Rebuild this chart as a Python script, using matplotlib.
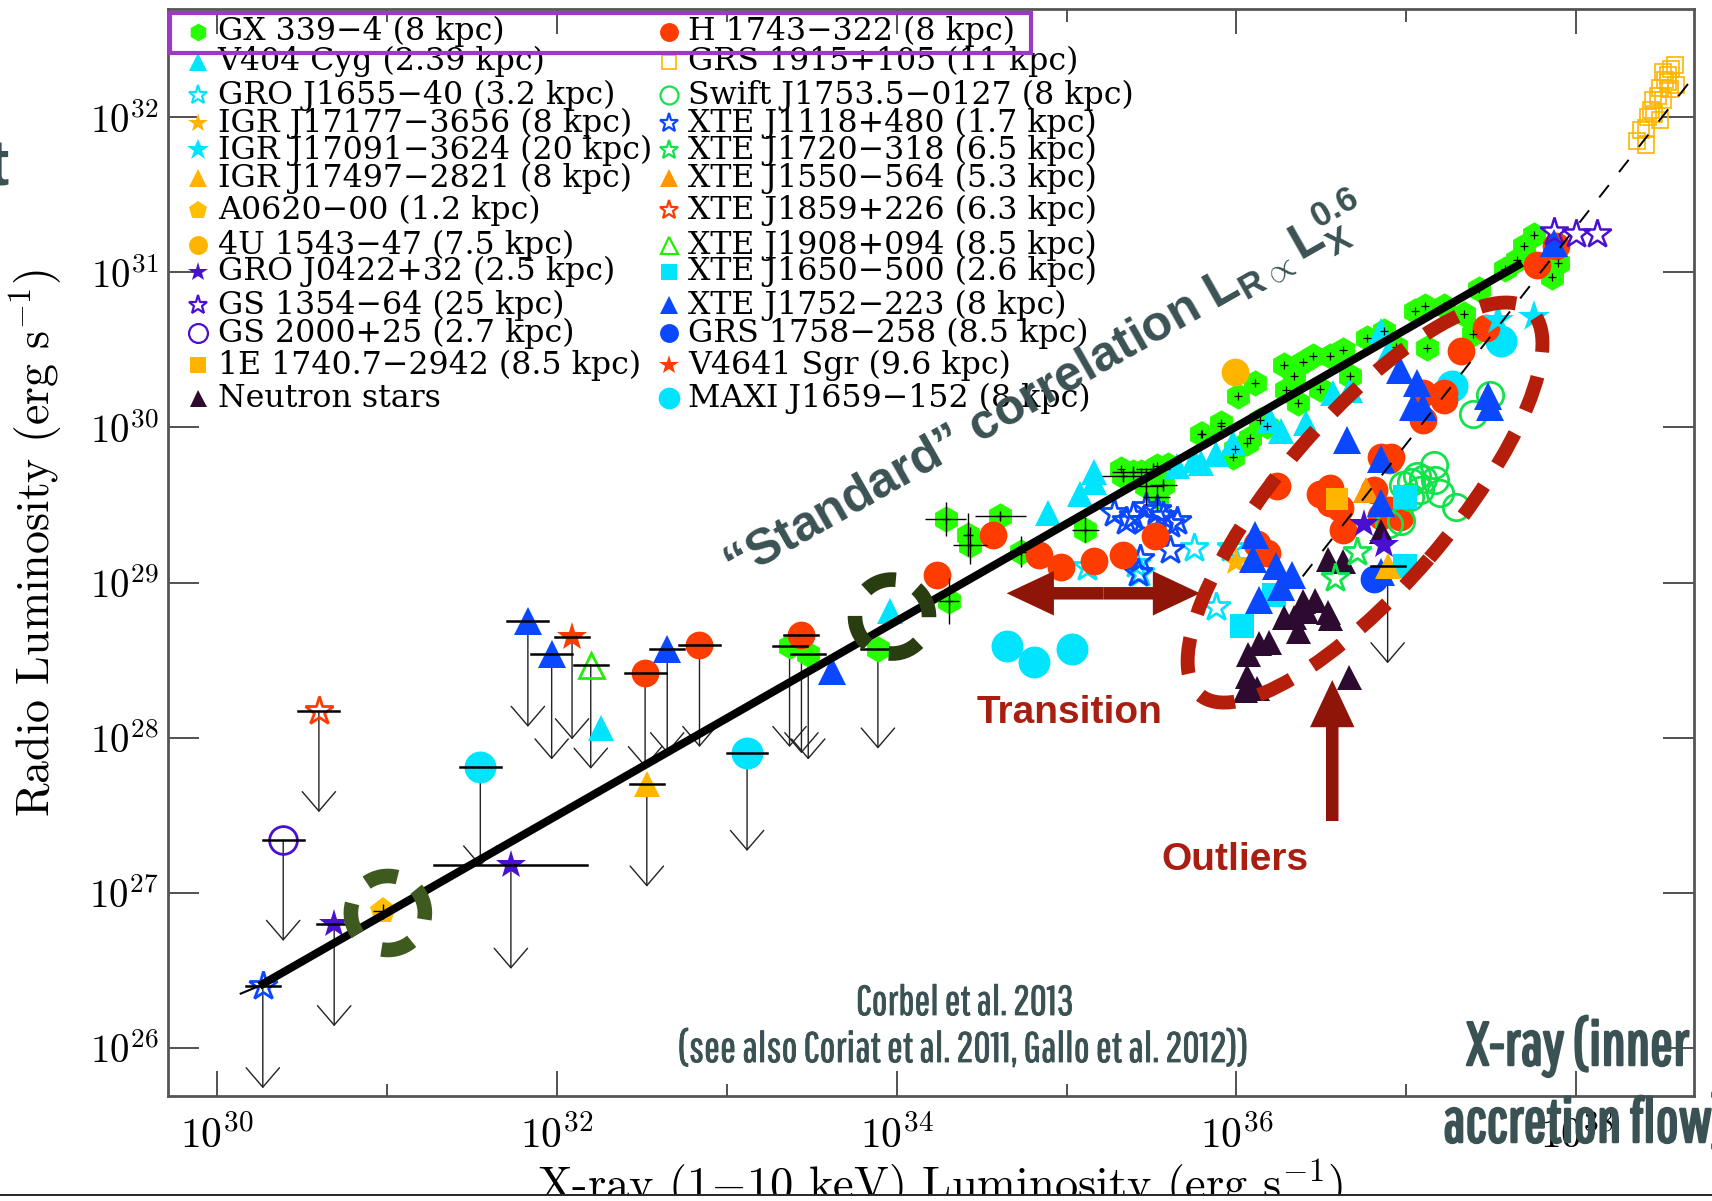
import numpy as np
import matplotlib
matplotlib.use("Agg")
from matplotlib import pyplot as plt
from matplotlib import patheffects as pe
from matplotlib.patches import Ellipse, Arc, Rectangle, FancyArrowPatch
from matplotlib.transforms import IdentityTransform
from matplotlib.ticker import FixedLocator, FixedFormatter, NullLocator, NullFormatter

plt.rcParams["mathtext.fontset"] = "cm"
plt.rcParams["mathtext.rm"] = "Liberation Sans:bold"
plt.rcParams["mathtext.it"] = "Liberation Sans:bold"
plt.rcParams["mathtext.bf"] = "Liberation Sans:bold"

# all values are log10 luminosities (x: 1-10 keV, y: radio)
gx339_x = [34.29, 34.42, 34.43, 34.61, 34.73, 34.31, 35.11, 35.33, 35.39, 35.51, 35.47, 35.53, 35.57,
           35.79, 35.98, 36.06, 35.91, 36.18, 36.01, 36.11, 36.28, 36.34, 36.39, 36.45, 36.55, 36.63,
           36.77, 37.05, 37.11, 37.12, 37.34, 37.39, 37.43, 37.58, 37.65, 37.69, 37.75, 37.86, 37.89,
           35.80, 35.91, 35.99, 36.08, 36.14, 36.29, 36.36, 36.49, 36.67, 36.87, 36.94, 37.22,
           35.32, 35.53, 35.44, 35.60]
gx339_y = [29.41, 29.31, 29.24, 29.43, 29.20, 28.88, 29.34, 29.69, 29.71, 29.73, 29.62, 29.55, 29.63,
           29.96, 29.81, 29.90, 30.01, 30.01, 30.20, 30.29, 30.40, 30.33, 30.42, 30.46, 30.46, 30.50,
           30.58, 30.75, 30.78, 30.51, 30.73, 30.60, 30.89, 31.02, 31.08, 31.17, 31.24, 30.97, 31.06,
           29.96, 30.03, 29.86, 29.93, 30.05, 30.24, 30.16, 30.25, 30.33, 30.62, 30.52, 30.78,
           29.73, 29.75, 29.71, 29.76]
# GX 339-4 points with visible error bars (half widths in dex)
gxbar_x = [34.29, 34.61, 34.42, 34.43, 34.31, 35.11, 34.73, 35.33, 35.39, 35.51, 35.47, 35.53, 35.57]
gxbar_y = [29.41, 29.43, 29.31, 29.24, 28.88, 29.34, 29.20, 29.69, 29.71, 29.73, 29.62, 29.55, 29.63]
gxbar_dx = [0.12, 0.15, 0.03, 0.10, 0.06, 0.08, 0.03, 0.12, 0.12, 0.10, 0.10, 0.08, 0.08]
gxbar_dy = [0.11, 0.03, 0.14, 0.12, 0.15, 0.08, 0.10, 0.04, 0.04, 0.04, 0.12, 0.08, 0.04]

h1743_x = [34.57, 34.84, 34.97, 35.16, 35.33, 35.52, 34.24, 36.24, 36.49, 36.55, 36.61, 36.63, 36.81,
           36.90, 36.96, 36.55, 36.85, 37.47, 37.32, 37.22, 37.10, 36.90, 37.77, 37.88, 36.12, 36.18,
           36.85, 36.91, 37.10, 37.22]
h1743_y = [29.31, 29.18, 29.10, 29.14, 29.18, 29.30, 29.05, 29.62, 29.57, 29.61, 29.48, 29.34, 29.60,
           29.47, 29.42, 29.51, 29.43, 30.64, 30.49, 30.18, 30.05, 29.79, 31.05, 31.17, 29.25, 29.19,
           29.81, 29.81, 30.22, 30.22]
j1752_x = [36.11, 36.10, 36.23, 36.33, 36.26, 36.13, 36.65, 36.85, 36.85, 36.85, 37.87, 36.96, 37.06,
           37.04, 37.10, 37.48, 37.49, 33.62]
j1752_y = [29.31, 29.15, 29.11, 29.05, 28.97, 28.89, 29.92, 29.80, 29.51, 29.07, 31.19, 30.37, 30.29,
           30.13, 30.13, 30.20, 30.13, 28.43]
v404_x = [33.96, 34.89, 35.08, 35.16, 35.79, 35.98, 36.26, 36.41, 36.85, 36.89, 36.67, 36.57, 36.20,
          35.88, 35.75, 35.65, 35.16, 32.26]
v404_y = [28.82, 29.45, 29.57, 29.65, 29.77, 29.90, 29.98, 30.03, 30.62, 30.48, 30.24, 30.22, 30.05,
          29.83, 29.79, 29.75, 29.71, 28.06]
j1655_x = [35.12, 35.43, 35.75, 35.97, 35.88, 35.41]
j1655_y = [29.10, 29.06, 29.22, 29.22, 28.84, 29.12]
j17091_x = [37.75, 37.54]
j17091_y = [30.71, 30.69]
j1650_x = [36.03, 36.22, 36.99, 36.99]
j1650_y = [28.72, 28.92, 29.11, 29.55]
maxi_x = [34.65, 34.81, 35.03, 37.56, 37.27]
maxi_y = [28.59, 28.49, 28.57, 30.56, 30.27]
j17177_x = [36.00]
j17177_y = [29.13]
j1550_x = [36.76]
j1550_y = [29.60]
e1740_x = [36.59]
e1740_y = [29.54]
u1543_x = [35.99]
u1543_y = [30.36]
a0620_x = [30.98]
a0620_y = [26.88]
grs1915_x = [38.36, 38.38, 38.41, 38.42, 38.44, 38.46, 38.45, 38.48, 38.49, 38.51,
             38.52, 38.54, 38.55, 38.56, 38.58, 38.59, 38.49, 38.41, 38.51, 38.54]
grs1915_y = [31.85, 31.92, 31.93, 32.00, 32.05, 32.02, 32.11, 32.14, 32.19, 32.11,
             32.24, 32.27, 32.18, 32.31, 32.34, 32.21, 31.98, 31.82, 32.29, 32.23]
j0422_x = [36.75, 36.87]
j0422_y = [29.38, 29.24]
gs1354_x = [37.87, 38.00, 38.12]
gs1354_y = [31.26, 31.25, 31.25]
ns_x = [36.39, 36.46, 36.54, 36.28, 36.36, 36.13, 36.19, 36.07, 36.06, 36.12, 36.05, 36.66, 36.34,
        36.41, 36.55, 36.85, 36.54, 36.63]
ns_y = [28.88, 28.89, 28.81, 28.78, 28.69, 28.61, 28.62, 28.54, 28.40, 28.32, 28.31, 28.39, 28.78,
        28.82, 28.77, 29.33, 29.15, 29.14]
j1118_x = [35.28, 35.35, 35.45, 35.53, 35.61, 35.47, 35.39, 35.57, 35.43, 35.42, 35.61, 35.65]
j1118_y = [29.45, 29.40, 29.40, 29.47, 29.38, 29.49, 29.43, 29.43, 29.15, 29.06, 29.21, 29.40]
j1720_x = [36.71, 36.58]
j1720_y = [29.20, 29.03]
grs1758_x = [36.81]
grs1758_y = [29.02]
swift_x = [36.98, 37.03, 37.08, 37.10, 37.17, 37.20, 37.29, 37.02, 36.90, 36.97, 37.06, 37.39, 37.49, 37.16]
swift_y = [29.63, 29.65, 29.60, 29.67, 29.66, 29.58, 29.49, 29.55, 29.38, 29.40, 29.69, 30.09, 30.21, 29.76]

# upper limits: source, position, arrow tip, half width of the bar (dex)
ul_key = ["j1118", "gs2000", "j1859", "j0422", "maxi", "j0422", "j1752", "j1752", "v4641", "j1908",
          "h1743", "j17497", "j1752", "h1743", "maxi", "gx339", "gx339", "h1743", "gx339", "j17497"]
ul_x = [30.27, 30.39, 30.60, 30.69, 31.55, 31.73, 31.83, 31.97, 32.09, 32.20,
        32.52, 32.53, 32.65, 32.84, 33.12, 33.37, 33.48, 33.44, 33.89, 36.89]
ul_y = [26.40, 27.34, 28.17, 26.80, 27.81, 27.18, 28.75, 28.54, 28.65, 28.47,
        28.42, 27.70, 28.57, 28.60, 27.90, 28.59, 28.54, 28.66, 28.57, 29.11]
ul_tip = [25.74, 26.69, 27.52, 26.14, 27.17, 26.51, 28.07, 27.86, 27.99, 27.80,
          27.81, 27.04, 27.90, 27.94, 27.27, 27.94, 27.86, 27.90, 27.93, 28.48]
ul_dx = [0.10, 0.12, 0.12, 0.10, 0.12, 0.45, 0.12, 0.12, 0.10, 0.10,
         0.12, 0.10, 0.10, 0.12, 0.12, 0.10, 0.10, 0.10, 0.10, 0.10]

# standard correlation (solid) and steeper track (dashed)
fit_x = [30.25, 37.68]
fit_y = [26.40, 31.06]
fit_tail_x = [30.14, 30.25]
fit_tail_y = [26.35, 26.40]
steep_x = [36.39, 38.69]
steep_y = [29.04, 32.26]

left_keys = ["gx339", "v404", "j1655", "j17177", "j17091", "j17497", "a0620", "u1543",
             "j0422", "gs1354", "gs2000", "e1740", "ns"]
left_labels = ["GX 339\u22124 (8 kpc)", "V404 Cyg (2.39 kpc)", "GRO J1655\u221240 (3.2 kpc)",
               "IGR J17177\u22123656 (8 kpc)", "IGR J17091\u22123624 (20 kpc)",
               "IGR J17497\u22122821 (8 kpc)", "A0620\u221200 (1.2 kpc)", "4U 1543\u221247 (7.5 kpc)",
               "GRO J0422+32 (2.5 kpc)", "GS 1354\u221264 (25 kpc)", "GS 2000+25 (2.7 kpc)",
               "1E 1740.7\u22122942 (8.5 kpc)", "Neutron stars"]
right_keys = ["h1743", "grs1915", "swift", "j1118", "j1720", "j1550", "j1859", "j1908",
              "j1650", "j1752", "grs1758", "v4641", "maxi"]
right_labels = ["H 1743\u2212322 (8 kpc)", "GRS 1915+105 (11 kpc)", "Swift J1753.5\u22120127 (8 kpc)",
                "XTE J1118+480 (1.7 kpc)", "XTE J1720\u2212318 (6.5 kpc)", "XTE J1550\u2212564 (5.3 kpc)",
                "XTE J1859+226 (6.3 kpc)", "XTE J1908+094 (8.5 kpc)", "XTE J1650\u2212500 (2.6 kpc)",
                "XTE J1752\u2212223 (8 kpc)", "GRS 1758\u2212258 (8.5 kpc)", "V4641 Sgr (9.6 kpc)",
                "MAXI J1659\u2212152 (8 kpc)"]
legend_rows_px = [31.7, 61.7, 95, 123.3, 150, 178.3, 210, 245, 271.7, 305, 333.3, 365, 398.3]

GREEN = "#27ff00"
CYAN = "#00e4ff"
GOLD = "#ffb400"
ORANGE = "#ff9800"
PURPLE = "#4a10cf"
NSCOL = "#2d0a30"
RED = "#ff3c00"
BLUE = "#0a47ff"
LGREEN = "#12e34a"
SLATE = "#3b5254"
DARKRED = "#8f1508"

# marker, size, face, edge, edge width
style = {
    "gx339": ("h", 19, GREEN, GREEN, 0),
    "v404": ("^", 19, CYAN, CYAN, 0),
    "j1655": ("*", 21, "none", CYAN, 2),
    "j17177": ("*", 22, GOLD, GOLD, 0),
    "j17091": ("*", 24, CYAN, CYAN, 0),
    "j17497": ("^", 19, GOLD, GOLD, 0),
    "a0620": ("p", 20, "#ffc000", "#ffc000", 0),
    "u1543": ("o", 20, GOLD, GOLD, 0),
    "j0422": ("*", 22, PURPLE, PURPLE, 0),
    "gs1354": ("*", 21, "none", PURPLE, 1.8),
    "gs2000": ("o", 20, "none", PURPLE, 2),
    "e1740": ("s", 16, GOLD, GOLD, 0),
    "ns": ("^", 18, NSCOL, NSCOL, 0),
    "h1743": ("o", 20, RED, RED, 0),
    "grs1915": ("s", 12, "none", GOLD, 1.2),
    "swift": ("o", 19, "none", LGREEN, 2),
    "j1118": ("*", 21, "none", BLUE, 2),
    "j1720": ("*", 21, "none", LGREEN, 2),
    "j1550": ("^", 19, ORANGE, ORANGE, 0),
    "j1859": ("*", 21, "none", RED, 2),
    "j1908": ("^", 18, "none", "#22ee00", 2),
    "j1650": ("s", 17, CYAN, CYAN, 0),
    "j1752": ("^", 20, BLUE, BLUE, 0),
    "grs1758": ("o", 20, BLUE, BLUE, 0),
    "v4641": ("*", 22, RED, RED, 0),
    "maxi": ("o", 23, CYAN, CYAN, 0),
}

detections = [
    ("gx339", gx339_x, gx339_y), ("v404", v404_x, v404_y), ("j1655", j1655_x, j1655_y),
    ("j1118", j1118_x, j1118_y), ("maxi", maxi_x, maxi_y), ("h1743", h1743_x, h1743_y),
    ("swift", swift_x, swift_y), ("j1650", j1650_x, j1650_y), ("ns", ns_x, ns_y),
    ("j17177", j17177_x, j17177_y), ("e1740", e1740_x, e1740_y), ("j1550", j1550_x, j1550_y),
    ("j1752", j1752_x, j1752_y), ("j0422", j0422_x, j0422_y), ("j1720", j1720_x, j1720_y),
    ("grs1758", grs1758_x, grs1758_y), ("j17091", j17091_x, j17091_y), ("u1543", u1543_x, u1543_y),
    ("a0620", a0620_x, a0620_y), ("gs1354", gs1354_x, gs1354_y), ("grs1915", grs1915_x, grs1915_y),
]


def L(v):
    return 10.0 ** np.asarray(v, dtype=float)


def xerr_of(x, dx):
    x = np.asarray(x, dtype=float)
    dx = np.asarray(dx, dtype=float)
    return [L(x) - L(x - dx), L(x + dx) - L(x)]


W, H = 1712, 1201
fig = plt.figure(figsize=(W / 100, H / 100), dpi=100)
ax = fig.add_axes([168 / W, 1 - 1096 / H, 1526 / W, 1087 / H])
ax.set_xscale("log")
ax.set_yscale("log")
ax.set_xlim(L(29.712), L(38.693))
ax.set_ylim(L(25.690), L(32.698))

for key, xs, ys in detections:
    m, ms, fc, ec, mew = style[key]
    ax.plot(L(xs), L(ys), ls="none", marker=m, ms=ms, mfc=fc, mec=ec, mew=mew, zorder=3)

ax.plot(L(gx339_x), L(gx339_y), ls="none", marker="+", ms=6, mec="k", mew=0.9, zorder=3.2)
ax.errorbar(L(gxbar_x), L(gxbar_y), xerr=xerr_of(gxbar_x, gxbar_dx), yerr=xerr_of(gxbar_y, gxbar_dy),
            fmt="none", ecolor="k", elinewidth=1.0, capsize=0, zorder=3.3)
ax.errorbar(L(a0620_x), L(a0620_y), xerr=xerr_of(a0620_x, [0.06]), yerr=xerr_of(a0620_y, [0.05]),
            fmt="none", ecolor="k", elinewidth=1.0, capsize=0, zorder=3.3)

for k, x, y, tip, dx in zip(ul_key, ul_x, ul_y, ul_tip, ul_dx):
    ax.annotate("", xy=(L(x), L(tip)), xytext=(L(x), L(y)),
                arrowprops=dict(arrowstyle="->,head_length=0.7,head_width=0.6", lw=1.0,
                                color="#222222", shrinkA=0, shrinkB=0, mutation_scale=20),
                zorder=2)
    m, ms, fc, ec, mew = style[k]
    ax.plot([L(x)], [L(y)], ls="none", marker=m, ms=ms, mfc=fc, mec=ec, mew=mew, zorder=3)
    ax.plot(L([x - dx, x + dx]), L([y, y]), color="k", lw=1.8, zorder=3.4)

ax.plot(L(fit_x), L(fit_y), color="k", lw=5.8, solid_capstyle="butt", zorder=4)
ax.plot(L(fit_tail_x), L(fit_tail_y), color="k", lw=1.5, zorder=4)
ax.plot(L(steep_x), L(steep_y), color="k", lw=1.4, ls=(0, (8, 8.5)), zorder=4)

# axes styling
ax.xaxis.set_major_locator(FixedLocator(L([30, 32, 34, 36, 38])))
ax.xaxis.set_major_formatter(FixedFormatter([r"$10^{30}$", r"$10^{32}$", r"$10^{34}$",
                                             r"$10^{36}$", r"$10^{38}$"]))
ax.xaxis.set_minor_locator(FixedLocator(L([31, 33, 35, 37])))
ax.xaxis.set_minor_formatter(NullFormatter())
ax.yaxis.set_major_locator(FixedLocator(L([26, 27, 28, 29, 30, 31, 32])))
ax.yaxis.set_major_formatter(FixedFormatter([r"$10^{%d}$" % d for d in range(26, 33)]))
ax.yaxis.set_minor_locator(NullLocator())
ax.tick_params(which="both", direction="in", top=True, right=True, color="#333333", width=1.2)
ax.tick_params(axis="x", which="major", length=18, labelsize=30, pad=14)
ax.tick_params(axis="x", which="minor", length=9)
ax.tick_params(axis="y", which="major", length=22, labelsize=28, pad=7)
for sp in ax.spines.values():
    sp.set_color("#555555")
    sp.set_linewidth(2)

# legend drawn by hand in two columns
for col, (keys, labels) in enumerate([(left_keys, left_labels), (right_keys, right_labels)]):
    mx = 197.6 if col == 0 else 669.5
    tx = 217.7 if col == 0 else 688.5
    for row, (k, lab) in enumerate(zip(keys, labels)):
        yf = (1096 - legend_rows_px[row]) / 1087
        m, ms, fc, ec, mew = style[k]
        ax.plot([(mx - 168) / 1526], [yf], transform=ax.transAxes, ls="none", marker=m,
                ms=ms * 0.68 if k != "grs1915" else 10, mfc=fc, mec=ec, mew=min(mew, 1.6),
                clip_on=False, zorder=6)
        ax.text((tx - 168) / 1526, yf, lab, transform=ax.transAxes, ha="left", va="center",
                family="DejaVu Serif", fontsize=22.8, zorder=6)
ax.add_patch(Rectangle((0.0013, 0.9592), 0.5642, 0.0374, transform=ax.transAxes, fill=False,
                       ec="#9b3bc2", lw=3, zorder=7, clip_on=False))

# annotations
ax.text(L(33.05), L(29.0), "\u201cStandard\u201d correlation L$_{\\mathrm{R}\\propto}$L$_{\\mathrm{X}}^{\\mathrm{0.6}}$",
        rotation=29.6, rotation_mode="anchor", ha="left", va="baseline", fontsize=36,
        fontweight="bold", family="Liberation Sans", color=SLATE, math_fontfamily="custom", zorder=8)
ax.text(L(35.018), L(28.095), "Transition", ha="center", va="baseline", fontsize=28,
        fontweight="bold", family="Liberation Sans", color="#a81e10", zorder=8)
ax.text(L(35.991), L(27.147), "Outliers", ha="center", va="baseline", fontsize=28,
        fontweight="bold", family="Liberation Sans", color="#a81e10", zorder=8)

arrow_style = "simple,head_length=34,head_width=32,tail_width=9"
for end in (34.648, 35.786):
    ax.add_patch(FancyArrowPatch((L(35.217), L(28.931)), (L(end), L(28.931)), arrowstyle=arrow_style,
                                 mutation_scale=1, color=DARKRED, lw=0, shrinkA=0, shrinkB=0, zorder=8))
ax.add_patch(FancyArrowPatch((L(36.564), L(27.463)), (L(36.564), L(28.372)), arrowstyle=arrow_style,
                             mutation_scale=1, color=DARKRED, lw=0, shrinkA=0, shrinkB=0, zorder=8))

# dashed outlines (drawn in pixel space so they stay round)
cx, cy = ax.transData.transform((L(36.757), L(29.516)))
fig.add_artist(Ellipse((cx, cy), 507, 170, angle=49.3, fill=False, ec="#b51e0a", lw=10,
                       ls=(0.5, (2.6, 1.8)), transform=IdentityTransform(), zorder=1))
for (lx, ly), col, starts in [((31.006, 26.870), "#3e5a1e", [15, 100, 190, 285]),
                              ((33.973, 28.781), "#2a3d10", [24, 109, 204, 290])]:
    px, py = ax.transData.transform((L(lx), L(ly)))
    for a in starts:
        fig.add_artist(Arc((px, py), 74, 74, theta1=a - 25, theta2=a + 25, lw=10.5, color=col,
                           transform=IdentityTransform(), zorder=1))


# figure texts
def F(x, y):
    return x / W, 1 - y / H


thin = [pe.withStroke(linewidth=0.6, foreground=SLATE)]
heavy = [pe.withStroke(linewidth=1.8, foreground=SLATE)]
fig.text(*F(964.5, 1015), "Corbel et al. 2013", ha="center", va="baseline", fontsize=30,
         family="Pathway Gothic One", color=SLATE, path_effects=thin)
fig.text(*F(963, 1062), "(see also Coriat et al. 2011, Gallo et al. 2012))", ha="center",
         va="baseline", fontsize=30.5, family="Pathway Gothic One", color=SLATE, path_effects=thin)
fig.text(*F(1466, 1065), "X-ray (inner", ha="left", va="baseline", fontsize=44,
         family="Pathway Gothic One", color=SLATE, zorder=5, path_effects=heavy)
fig.text(*F(1443, 1142), "accretion flow)", ha="left", va="baseline", fontsize=44,
         family="Pathway Gothic One", color=SLATE, zorder=5, path_effects=heavy)
fig.text(*F(9, 185), "t", ha="right", va="baseline", fontsize=46, fontweight="bold",
         family="Liberation Sans", color=SLATE)
fig.text(*F(36, 543), "Radio Luminosity (erg s$^{-1}$)", rotation=90, ha="center", va="center",
         family="cmr10", fontsize=33)
fig.text(*F(940, 1200), "X-ray (1$-$10 keV) Luminosity (erg s$^{-1}$)", ha="center",
         va="baseline", family="cmr10", fontsize=33.5)

fig.add_artist(Rectangle((0, 0), W, 5.5, transform=IdentityTransform(), fc="white", ec="none", zorder=10))
fig.add_artist(Rectangle((0, 5), W, 2.2, transform=IdentityTransform(), fc="#2a2a2a", ec="none", zorder=11))

fig.savefig("out.png", dpi=100)
